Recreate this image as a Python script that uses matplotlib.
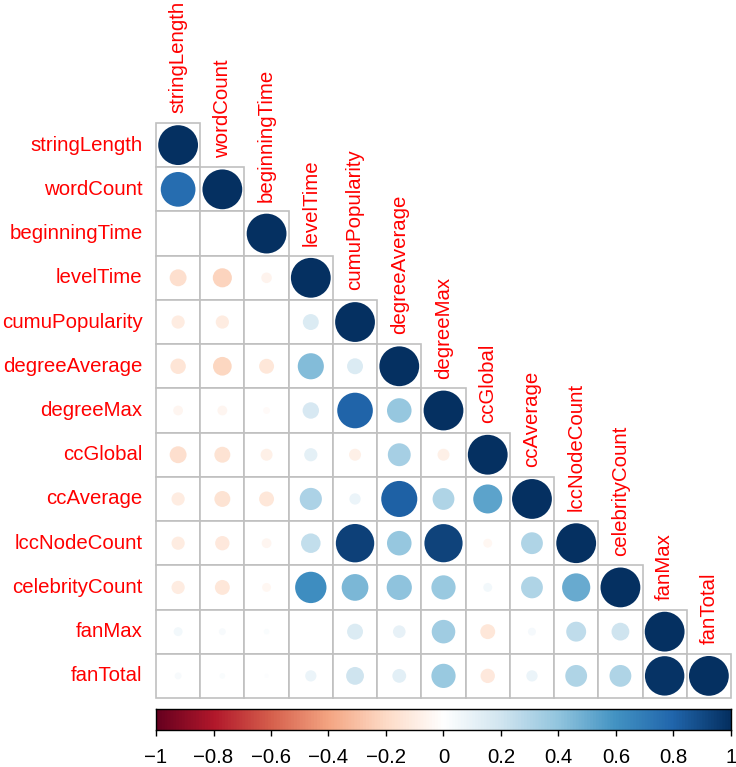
import numpy as np
import matplotlib
matplotlib.use('Agg')
import matplotlib.pyplot as plt
from matplotlib.patches import Circle, Rectangle
from matplotlib.colors import LinearSegmentedColormap, Normalize

plt.rcParams['font.family'] = ['Liberation Sans', 'DejaVu Sans']

names = ['stringLength', 'wordCount', 'beginningTime', 'levelTime', 'cumuPopularity',
         'degreeAverage', 'degreeMax', 'ccGlobal', 'ccAverage', 'lccNodeCount',
         'celebrityCount', 'fanMax', 'fanTotal']

# lower triangle, row by row (values left of the diagonal)
lower = [
    [],
    [0.76],
    [0.0, 0.0],
    [-0.18, -0.23, -0.07],
    [-0.11, -0.11, 0.0, 0.16],
    [-0.15, -0.22, -0.14, 0.43, 0.16],
    [-0.06, -0.06, -0.03, 0.17, 0.80, 0.38],
    [-0.18, -0.16, -0.09, 0.11, -0.09, 0.33, -0.09],
    [-0.11, -0.16, -0.14, 0.31, 0.08, 0.82, 0.30, 0.53],
    [-0.11, -0.13, -0.06, 0.24, 0.93, 0.38, 0.92, -0.05, 0.30],
    [-0.11, -0.14, -0.05, 0.62, 0.45, 0.40, 0.37, 0.05, 0.30, 0.50],
    [0.05, 0.03, 0.02, 0.0, 0.16, 0.10, 0.35, -0.14, 0.04, 0.25, 0.20],
    [0.03, 0.02, 0.01, 0.08, 0.20, 0.12, 0.37, -0.13, 0.08, 0.30, 0.30, 0.98],
]

col2 = ["#67001F", "#B2182B", "#D6604D", "#F4A582", "#FDDBC7", "#FFFFFF",
        "#D1E5F0", "#92C5DE", "#4393C3", "#2166AC", "#053061"]
cmap = LinearSegmentedColormap.from_list('rdbu', col2, N=200)
norm = Normalize(-1, 1)
bar_ticks = np.arange(-1, 1.01, 0.2)

W, H = 736, 767
fig = plt.figure(figsize=(W / 100, H / 100), dpi=100)

n = len(names)
gx0, gx1, gy0, gy1 = 156, 731, 123, 698
ax = fig.add_axes([gx0 / W, 1 - gy1 / H, (gx1 - gx0) / W, (gy1 - gy0) / H])
ax.set_xlim(0, n)
ax.set_ylim(n, 0)
ax.axis('off')

for i in range(n):
    vals = lower[i] + [1.0]
    for j, r in enumerate(vals):
        ax.add_patch(Rectangle((j, i), 1, 1, facecolor='white', edgecolor='#c0c0c0',
                               lw=1.2, zorder=1, clip_on=False))
        rad = 0.45 * np.sqrt(abs(r))
        if rad > 0:
            ax.add_patch(Circle((j + 0.5, i + 0.5), rad, facecolor=cmap(norm(r)),
                                edgecolor='none', zorder=2, clip_on=False))
    ax.text(-0.3, i + 0.5, names[i], ha='right', va='center', color='red',
            fontsize=14.7)
    ax.text(i + 0.5, i - 0.22, names[i], ha='center', va='bottom', rotation=90,
            color='red', fontsize=14.7)

# colour bar
cax = fig.add_axes([gx0 / W, 1 - 730 / H, (gx1 - gx0) / W, 21 / H])
grad = np.linspace(-1, 1, 400).reshape(1, -1)
cax.imshow(grad, cmap=cmap, norm=norm, aspect='auto', extent=(-1, 1, 0, 1))
cax.set_xlim(-1, 1)
cax.set_yticks([])
cax.set_xticks(bar_ticks)
cax.set_xticklabels(['\u22121' if abs(t + 1) < 1e-9 else ('0' if abs(t) < 1e-9 else
                     ('1' if abs(t - 1) < 1e-9 else f'{t:.1f}'.replace('-', '\u2212')))
                     for t in bar_ticks], fontsize=14.7)
cax.tick_params(axis='x', length=4, width=1, pad=9)
for s in cax.spines.values():
    s.set_linewidth(1)

fig.savefig('out.png', dpi=100)
